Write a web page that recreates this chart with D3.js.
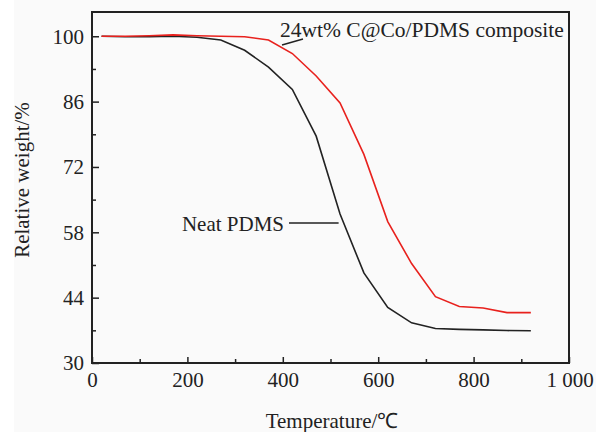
<!DOCTYPE html>
<html>
<head>
<meta charset="utf-8">
<script src="https://cdn.jsdelivr.net/npm/d3@7"></script>
<style>
  html, body { margin: 0; padding: 0; background: #fafafa; }
  svg { display: block; }
  svg text { font-family: "Liberation Serif", "Times New Roman", serif; fill: #222; }
</style>
</head>
<body>
<svg id="chart" width="596" height="432"></svg>
<script>
const temperatures = [20, 70, 120, 170, 220, 270, 320, 370, 420, 470, 520, 570, 620, 670, 720, 770, 820, 870, 920];
const neatPDMS = [100, 99.9, 99.9, 100, 99.8, 99.2, 97.0, 93.4, 88.6, 78.6, 61.9, 49.3, 41.9, 38.6, 37.4, 37.2, 37.1, 36.95, 36.9];
const composite = [100, 100, 100.1, 100.3, 100.1, 100, 99.9, 99.2, 96.3, 91.5, 85.7, 74.7, 60.3, 51.3, 44.2, 42.1, 41.8, 40.8, 40.8];
const xTicks = [0, 200, 400, 600, 800, 1000];
const xTickLabels = ["0", "200", "400", "600", "800", "1 000"];
const yTicks = [30, 44, 58, 72, 86, 100];
const seriesNames = ["Neat PDMS", "24wt% C@Co/PDMS composite"];
const xTitle = "Temperature/\u2103";
const yTitle = "Relative weight/%";

const svg = d3.select("#chart");
const fs = 21;
const mLeft = 92, mRight = 569, mTop = 12, mBottom = 363;

svg.append("rect").attr("x", 0).attr("y", 0).attr("width", 14).attr("height", 432).attr("fill", "#ffffff");

const x = d3.scaleLinear().domain([0, 1000]).range([mLeft, mRight]);
const y = d3.scaleLinear().domain([30, 105.2]).range([mBottom, mTop]);

const g = svg.append("g");

const xMinor = d3.range(100, 1000, 200);
const yMinor = d3.range(37, 105, 14);

const xAxis = d3.axisBottom(x).tickValues(xTicks).tickSize(-6).tickPadding(9)
  .tickFormat((d, i) => xTickLabels[i]);
const gx = g.append("g").attr("transform", `translate(0,${mBottom})`).call(xAxis);
const gxm = g.append("g").attr("transform", `translate(0,${mBottom})`)
  .call(d3.axisBottom(x).tickValues(xMinor).tickSize(-4).tickFormat(""));

const yAxis = d3.axisLeft(y).tickValues(yTicks).tickSize(-7).tickPadding(8);
const gy = g.append("g").attr("transform", `translate(${mLeft},0)`).call(yAxis);
const gym = g.append("g").attr("transform", `translate(${mLeft},0)`)
  .call(d3.axisLeft(y).tickValues(yMinor).tickSize(-4).tickFormat(""));

[gx, gxm, gy, gym].forEach(a => {
  a.select(".domain").remove();
  a.attr("font-family", null).attr("font-size", null);
  a.selectAll("line").attr("stroke", "#222").attr("stroke-width", 1.5);
  a.selectAll("text").style("font-size", fs + "px").attr("fill", "#222");
});
gx.selectAll("text").attr("dy", "0.71em");
gx.selectAll(".tick").filter(d => d === 1000).select("text").attr("text-anchor", "start").attr("dx", -23);

svg.append("rect").attr("x", mLeft).attr("y", mTop).attr("width", mRight - mLeft).attr("height", mBottom - mTop)
  .attr("fill", "none").attr("stroke", "#222").attr("stroke-width", 2);

const line = d3.line().x(d => x(d[0])).y(d => y(d[1]));
svg.append("path").datum(temperatures.map((t, i) => [t, neatPDMS[i]]))
  .attr("d", line).attr("fill", "none").attr("stroke", "#222").attr("stroke-width", 1.6);
svg.append("path").datum(temperatures.map((t, i) => [t, composite[i]]))
  .attr("d", line).attr("fill", "none").attr("stroke", "#e8211d").attr("stroke-width", 1.6);

svg.append("text").attr("x", 280).attr("y", 37).style("font-size", "21.5px").text(seriesNames[1]);
svg.append("line").attr("x1", 282).attr("y1", 45).attr("x2", 303).attr("y2", 39)
  .attr("stroke", "#222").attr("stroke-width", 1.5);

svg.append("text").attr("x", 284).attr("y", 231).attr("text-anchor", "end").style("font-size", fs + "px")
  .text(seriesNames[0]);
svg.append("line").attr("x1", 289).attr("y1", 223).attr("x2", x(517)).attr("y2", 223)
  .attr("stroke", "#222").attr("stroke-width", 1.5);

svg.append("text").attr("x", 332).attr("y", 428).attr("text-anchor", "middle").style("font-size", fs + "px")
  .text(xTitle);
svg.append("text").attr("transform", `translate(29,180) rotate(-90)`)
  .attr("text-anchor", "middle").style("font-size", fs + "px").text(yTitle);
</script>
</body>
</html>
